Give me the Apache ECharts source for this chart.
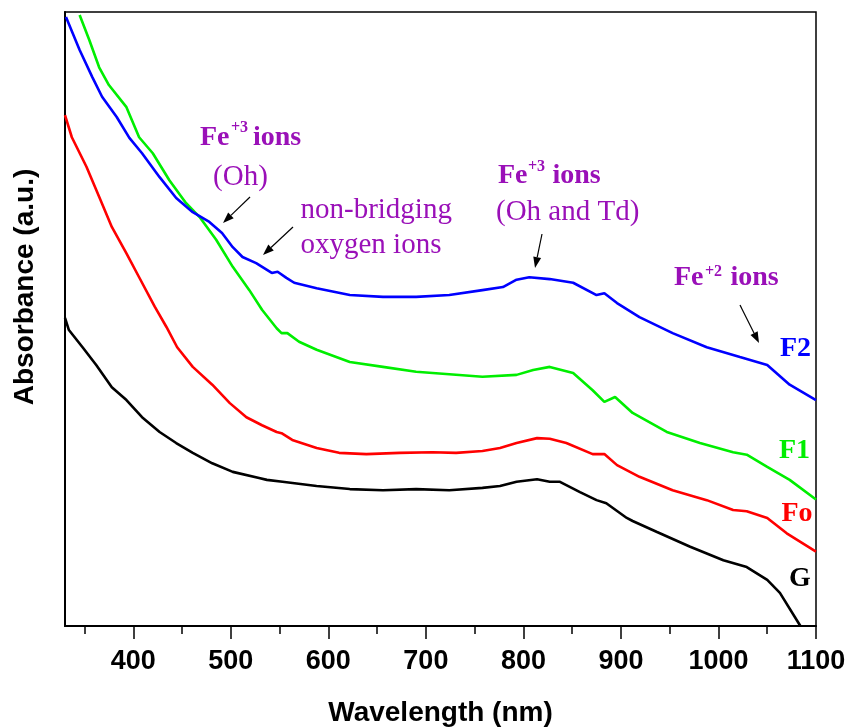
<!DOCTYPE html>
<html>
<head>
<meta charset="utf-8">
<script src="https://cdn.jsdelivr.net/npm/echarts@6/dist/echarts.min.js"></script>
<style>
  html, body { margin: 0; padding: 0; background: #fff; }
  #chart { width: 847px; height: 727px; }
</style>
</head>
<body>
<div id="chart"></div>
<script>
// UV-Vis-NIR absorbance spectra (arbitrary units)
const majorTicks = [400, 500, 600, 700, 800, 900, 1000, 1100];
const minorTicks = [350, 450, 550, 650, 750, 850, 950, 1050];

const f2Wavelength = [331, 345, 358, 368, 383, 396, 409, 427, 444, 461, 478, 491, 502, 512, 526, 542, 548, 557, 565, 588, 622, 656, 690, 724, 758, 779, 793, 806, 827, 851, 875, 883, 896, 919, 953, 988, 1022, 1050, 1073, 1100];
const f2Absorbance = [0.992, 0.938, 0.894, 0.862, 0.829, 0.795, 0.770, 0.731, 0.697, 0.674, 0.658, 0.640, 0.617, 0.601, 0.591, 0.575, 0.577, 0.567, 0.559, 0.550, 0.539, 0.536, 0.536, 0.539, 0.547, 0.552, 0.564, 0.568, 0.565, 0.559, 0.539, 0.542, 0.526, 0.503, 0.477, 0.454, 0.438, 0.425, 0.393, 0.368];

const f1Wavelength = [345, 355, 365, 375, 393, 406, 420, 437, 454, 468, 485, 502, 519, 532, 547, 552, 558, 570, 588, 622, 656, 690, 724, 758, 793, 810, 827, 851, 871, 883, 894, 912, 947, 981, 1015, 1029, 1050, 1073, 1100];
const f1Absorbance = [0.995, 0.954, 0.910, 0.881, 0.845, 0.796, 0.770, 0.726, 0.689, 0.666, 0.629, 0.585, 0.547, 0.515, 0.485, 0.477, 0.477, 0.463, 0.450, 0.430, 0.422, 0.414, 0.410, 0.406, 0.409, 0.417, 0.422, 0.412, 0.384, 0.365, 0.373, 0.347, 0.316, 0.298, 0.283, 0.279, 0.259, 0.238, 0.206];

const foWavelength = [330, 337, 352, 365, 378, 393, 406, 422, 434, 445, 461, 481, 499, 516, 532, 547, 552, 563, 588, 611, 639, 673, 707, 731, 758, 776, 793, 814, 827, 844, 871, 883, 896, 919, 953, 988, 1015, 1029, 1050, 1070, 1100];
const foAbsorbance = [0.832, 0.796, 0.748, 0.699, 0.650, 0.607, 0.568, 0.520, 0.487, 0.454, 0.422, 0.393, 0.363, 0.340, 0.327, 0.316, 0.314, 0.303, 0.290, 0.282, 0.280, 0.282, 0.283, 0.282, 0.285, 0.290, 0.298, 0.306, 0.305, 0.298, 0.280, 0.280, 0.262, 0.243, 0.221, 0.205, 0.189, 0.187, 0.176, 0.151, 0.121];

const gWavelength = [330, 334, 348, 362, 378, 393, 409, 427, 444, 461, 481, 502, 529, 537, 553, 588, 622, 656, 690, 724, 758, 776, 793, 814, 827, 837, 858, 875, 885, 906, 912, 937, 971, 1005, 1029, 1050, 1063, 1084];
const gAbsorbance = [0.502, 0.482, 0.454, 0.425, 0.389, 0.368, 0.340, 0.316, 0.298, 0.282, 0.265, 0.251, 0.241, 0.238, 0.235, 0.228, 0.223, 0.221, 0.223, 0.221, 0.225, 0.228, 0.235, 0.239, 0.235, 0.235, 0.218, 0.205, 0.200, 0.176, 0.171, 0.153, 0.129, 0.107, 0.096, 0.075, 0.054, 0.0];

const zip = (xs, ys) => xs.map((x, i) => [x, ys[i]]);

const SANS = '"Liberation Sans", Arial, sans-serif';
const SERIF = '"Liberation Serif", "Times New Roman", serif';
const PURPLE = '#9a10b8';

// text helper: place by baseline (y is converted to em-middle)
function txt(x, baseline, str, size, opts) {
  opts = opts || {};
  return {
    type: 'text',
    x: x,
    y: baseline - 0.3375 * size,
    z: 100,
    style: {
      text: str,
      fill: opts.color || PURPLE,
      font: (opts.bold ? 'bold ' : '') + size + 'px ' + SERIF,
      textAlign: opts.align || 'left',
      textVerticalAlign: 'middle'
    }
  };
}

// annotation arrow: thin shaft and filled head
function arrow(x1, y1, x2, y2) {
  const ang = Math.atan2(y2 - y1, x2 - x1);
  const L = 11, W = 4;
  const bx = x2 - L * Math.cos(ang), by = y2 - L * Math.sin(ang);
  const nx = -Math.sin(ang) * W, ny = Math.cos(ang) * W;
  return [
    { type: 'line', z: 100, shape: { x1: x1, y1: y1, x2: bx, y2: by }, style: { stroke: '#000', lineWidth: 1.2 } },
    { type: 'polygon', z: 100, shape: { points: [[x2, y2], [bx + nx, by + ny], [bx - nx, by - ny]] }, style: { fill: '#000' } }
  ];
}

const graphics = [
  // y-axis title
  {
    type: 'text', x: 25, y: 287, rotation: Math.PI / 2, z: 100,
    style: { text: 'Absorbance (a.u.)', fill: '#000', font: 'bold 28px ' + SANS, textAlign: 'center', textVerticalAlign: 'middle' }
  },
  // Fe+3 ions (Oh)
  txt(200, 147, 'Fe', 28, { bold: true }),
  txt(231, 133, '+3', 16, { bold: true }),
  txt(253, 147, 'ions', 28, { bold: true }),
  txt(240.5, 187, '(Oh)', 29, { align: 'center' }),
  // non-bridging oxygen ions
  txt(300.5, 220, 'non-bridging', 29),
  txt(300.5, 255.5, 'oxygen ions', 29),
  // Fe+3 ions (Oh and Td)
  txt(498, 185, 'Fe', 28, { bold: true }),
  txt(528, 172, '+3', 16, { bold: true }),
  txt(552.5, 185, 'ions', 28, { bold: true }),
  txt(496, 222, '(Oh and Td)', 29),
  // Fe+2 ions
  txt(674, 287, 'Fe', 28, { bold: true }),
  txt(705, 277, '+2', 16, { bold: true }),
  txt(730.5, 287, 'ions', 28, { bold: true }),
  // sample labels
  txt(780, 358.5, 'F2', 28, { bold: true, color: '#0000ff' }),
  txt(779, 460.5, 'F1', 28, { bold: true, color: '#00ee00' }),
  txt(781.5, 523.5, 'Fo', 28, { bold: true, color: '#ff0000' }),
  txt(789, 588.5, 'G', 28, { bold: true, color: '#000' })
].concat(
  arrow(250, 197, 223, 223),
  arrow(293, 227, 263, 255),
  arrow(542, 234, 535, 268),
  arrow(740, 305, 759, 343)
);

const lineSeries = (name, data, color) => ({
  name: name,
  type: 'line',
  data: data,
  showSymbol: false,
  smooth: false,
  clip: true,
  lineStyle: { color: color, width: 2.6 },
  itemStyle: { color: color },
  emphasis: { disabled: true },
  animation: false
});

const chart = echarts.init(document.getElementById('chart'), null, { renderer: 'canvas' });
chart.setOption({
  backgroundColor: '#fff',
  animation: false,
  grid: {
    left: 65, right: 31, top: 12, bottom: 101,
    outerBoundsMode: 'none',
    containLabel: false,
    show: true, borderColor: '#000', borderWidth: 1.5, backgroundColor: 'transparent'
  },
  xAxis: [
    {
      type: 'value', min: 330, max: 1100, position: 'bottom',
      name: 'Wavelength (nm)', nameLocation: 'middle', nameGap: 73,
      nameTextStyle: { fontFamily: SANS, fontWeight: 'bold', fontSize: 28, color: '#000' },
      axisLine: { show: true, lineStyle: { color: '#000', width: 2 } },
      axisTick: { show: true, inside: false, length: 13, customValues: majorTicks, lineStyle: { color: '#000', width: 1.5 } },
      axisLabel: {
        show: true, customValues: majorTicks, margin: 22, hideOverlap: false,
        formatter: v => String(v),
        fontFamily: SANS, fontWeight: 'bold', fontSize: 27, color: '#000'
      },
      splitLine: { show: false }
    },
    {
      type: 'value', min: 330, max: 1100, position: 'bottom',
      axisLine: { show: false },
      axisTick: { show: true, inside: false, length: 8, customValues: minorTicks, lineStyle: { color: '#000', width: 1.5 } },
      axisLabel: { show: false },
      splitLine: { show: false }
    }
  ],
  yAxis: {
    type: 'value', min: 0, max: 1,
    axisLine: { show: true, lineStyle: { color: '#000', width: 2 } },
    axisTick: { show: false },
    axisLabel: { show: false },
    splitLine: { show: false }
  },
  series: [
    lineSeries('G', zip(gWavelength, gAbsorbance), '#000000'),
    lineSeries('Fo', zip(foWavelength, foAbsorbance), '#ff0000'),
    lineSeries('F1', zip(f1Wavelength, f1Absorbance), '#00ee00'),
    lineSeries('F2', zip(f2Wavelength, f2Absorbance), '#0000ff')
  ],
  graphic: graphics
});
</script>
</body>
</html>
